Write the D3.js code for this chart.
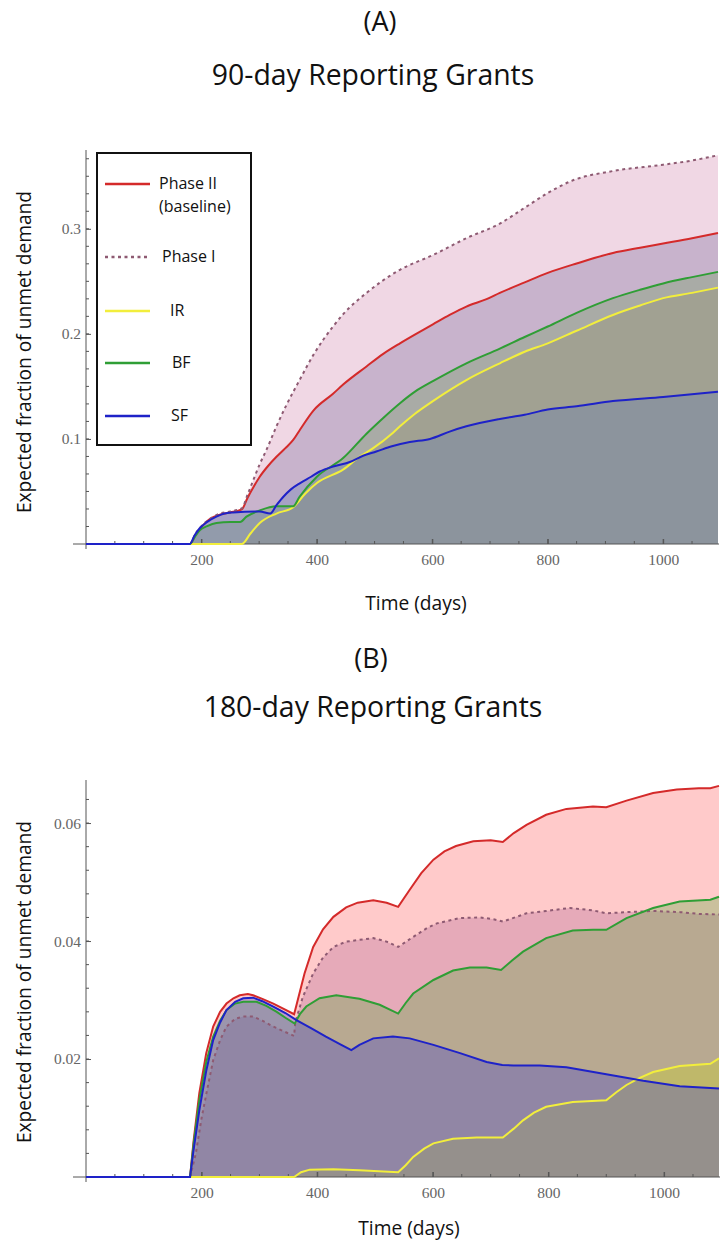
<!DOCTYPE html>
<html>
<head>
<meta charset="utf-8">
<style>
body { margin: 0; background: #fff; }
svg { display: block; }
.title { font-family: "Open Sans", Lato, sans-serif; fill: #111; }
.axlabel { font-family: "Open Sans", Lato, sans-serif; font-size: 19.2px; fill: #111; }
.tick text { font-family: "Liberation Serif", "DejaVu Serif", serif; font-size: 15.5px; fill: #666; }
.legend text { font-family: "Open Sans", Lato, sans-serif; font-size: 16px; fill: #111; }
</style>
</head>
<body>
<svg width="721" height="1241"></svg>
<script src="https://d3js.org/d3.v7.min.js"></script>
<script>

// series order (legend order, also drawing order)
var seriesNames = ["Phase II\n(baseline)", "Phase I", "IR", "BF", "SF"];

// (A) 90-day reporting grants: [day, expected fraction of unmet demand]
var a90PhaseII = [[0,0],[180,0],[190,0.009],[200,0.016],[215,0.024],[232,0.028],[250,0.030],[270,0.033],[280,0.044],[290,0.054],[301,0.064],[315,0.074],[330,0.083],[345,0.091],[359,0.099],[371,0.109],[394,0.127],[428,0.143],[446,0.152],[486,0.169],[515,0.181],[544,0.191],[572,0.200],[601,0.209],[630,0.218],[659,0.226],[694,0.233],[717,0.239],[760,0.249],[800,0.258],[850,0.267],[913,0.277],[960,0.282],[1000,0.286],[1050,0.291],[1095,0.296]];
var a90PhaseI = [[0,0],[180,0],[190,0.010],[200,0.017],[215,0.024],[232,0.029],[250,0.031],[270,0.034],[280,0.047],[290,0.061],[301,0.076],[313,0.090],[330,0.112],[347,0.132],[371,0.157],[394,0.180],[428,0.207],[446,0.219],[486,0.239],[515,0.251],[544,0.261],[601,0.275],[659,0.291],[717,0.305],[760,0.320],[800,0.334],[843,0.346],[913,0.355],[1000,0.361],[1050,0.365],[1095,0.370]];
var a90IR = [[0,0],[270,0],[285,0.010],[301,0.020],[330,0.029],[359,0.035],[380,0.048],[400,0.058],[446,0.071],[474,0.083],[497,0.091],[532,0.106],[544,0.112],[570,0.124],[601,0.136],[659,0.156],[717,0.172],[760,0.183],[800,0.191],[850,0.203],[913,0.218],[960,0.227],[1000,0.234],[1050,0.239],[1095,0.244]];
var a90BF = [[0,0],[180,0],[190,0.008],[197,0.013],[210,0.017],[226,0.020],[250,0.021],[267,0.021],[278,0.026],[301,0.032],[330,0.036],[359,0.036],[370,0.045],[400,0.064],[446,0.082],[486,0.105],[515,0.120],[544,0.134],[570,0.145],[601,0.155],[659,0.172],[717,0.186],[760,0.197],[800,0.207],[850,0.220],[913,0.234],[960,0.242],[1000,0.248],[1050,0.254],[1095,0.259]];
var a90SF = [[0,0],[180,0],[188,0.008],[197,0.015],[210,0.021],[226,0.026],[240,0.029],[255,0.030],[301,0.031],[319,0.029],[330,0.037],[342,0.045],[355,0.052],[371,0.058],[390,0.064],[405,0.069],[430,0.074],[457,0.078],[480,0.084],[503,0.088],[530,0.093],[561,0.097],[596,0.100],[630,0.107],[659,0.112],[717,0.119],[760,0.123],[800,0.128],[850,0.131],[913,0.136],[1000,0.140],[1095,0.145]];

// (B) 180-day reporting grants
var b180PhaseII = [[0,0],[180,0],[186,0.006],[196,0.0142],[208,0.021],[220,0.0255],[232,0.0280],[243,0.0294],[255,0.0303],[266,0.0308],[280,0.0310],[289,0.0308],[305,0.0302],[324,0.0294],[342,0.0285],[360,0.0276],[365,0.0295],[378,0.0345],[393,0.0390],[410,0.0420],[428,0.0441],[450,0.0457],[470,0.0465],[497,0.0469],[520,0.0465],[540,0.0458],[560,0.0487],[580,0.0515],[601,0.0538],[620,0.0552],[640,0.0561],[670,0.0569],[700,0.0571],[721,0.0568],[740,0.0583],[762,0.0597],[796,0.0614],[831,0.0624],[877,0.0628],[900,0.0627],[935,0.0638],[981,0.0651],[1022,0.0657],[1060,0.0659],[1080,0.0659],[1095,0.0663]];
var b180PhaseI = [[0,0],[180,0],[190,0.004],[200,0.010],[210,0.015],[220,0.0198],[232,0.0232],[243,0.0255],[258,0.0268],[272,0.0272],[289,0.0272],[305,0.0265],[324,0.0255],[342,0.0247],[360,0.0239],[362,0.0262],[375,0.0305],[393,0.0345],[410,0.0372],[428,0.0390],[450,0.0399],[473,0.0402],[497,0.0405],[520,0.0399],[540,0.0390],[566,0.0407],[590,0.0422],[607,0.0430],[647,0.0439],[682,0.0440],[705,0.0437],[721,0.0433],[762,0.0447],[796,0.0451],[837,0.0456],[877,0.0452],[900,0.0447],[935,0.0449],[981,0.0451],[1028,0.0449],[1060,0.0446],[1095,0.0445]];
var b180IR = [[0,0],[360,0],[372,0.0008],[387,0.00125],[428,0.0013],[473,0.00115],[540,0.0008],[553,0.0020],[566,0.0034],[585,0.0048],[601,0.0057],[635,0.0065],[676,0.0067],[721,0.0067],[740,0.0082],[756,0.0096],[775,0.0109],[796,0.0119],[842,0.0127],[900,0.0130],[918,0.0144],[935,0.0156],[958,0.0168],[981,0.0178],[1027,0.0188],[1080,0.0192],[1095,0.0201]];
var b180BF = [[0,0],[180,0],[186,0.0055],[196,0.013],[208,0.0195],[220,0.0238],[232,0.0265],[243,0.0283],[258,0.0294],[272,0.0297],[295,0.0297],[312,0.0290],[330,0.0280],[345,0.0270],[361,0.0260],[370,0.0276],[381,0.0289],[404,0.0303],[433,0.0308],[461,0.0304],[473,0.0302],[508,0.0292],[540,0.0277],[553,0.0295],[566,0.0311],[601,0.0334],[635,0.0350],[664,0.0355],[693,0.0355],[718,0.0351],[737,0.0367],[756,0.0382],[796,0.0405],[842,0.0418],[877,0.0419],[900,0.0419],[935,0.0439],[981,0.0456],[1027,0.0467],[1080,0.0470],[1095,0.0475]];
var b180SF = [[0,0],[180,0],[186,0.0045],[196,0.0113],[208,0.018],[220,0.0232],[232,0.0262],[243,0.0283],[258,0.0297],[272,0.0303],[289,0.0304],[305,0.0298],[324,0.0289],[345,0.0278],[364,0.0266],[390,0.0252],[415,0.0238],[440,0.0225],[459,0.0215],[473,0.0224],[497,0.0235],[531,0.0238],[560,0.0235],[601,0.0224],[647,0.0210],[693,0.0195],[720,0.0190],[739,0.0189],[785,0.0189],[831,0.0186],[900,0.0174],[964,0.0163],[1027,0.0154],[1095,0.0150]];

// tick values
var xTicks = [200, 400, 600, 800, 1000];
var aYTicks = [0.1, 0.2, 0.3];
var bYTicks = [0.02, 0.04, 0.06];

var lineColors = ["#d42a2a", "#8e5a72", "#f2ee3c", "#2f9e35", "#1e22c8"];

var svg = d3.select("svg");

function drawPanel(opt) {
    var x = d3.scaleLinear().domain([0, 1095]).range([86, opt.right]);
    var y = d3.scaleLinear().domain([0, opt.yMax]).range([opt.base, opt.top]);
    var g = svg.append("g");

    var area = d3.area()
        .curve(opt.curve)
        .x(function(d) { return x(d[0]); })
        .y0(y(0))
        .y1(function(d) { return y(d[1]); });
    var line = d3.line()
        .curve(opt.curve)
        .x(function(d) { return x(d[0]); })
        .y(function(d) { return y(d[1]); });

    // fills, in plotting order, each semi-transparent
    opt.series.forEach(function(s, i) {
        g.append("path")
            .attr("d", area(s))
            .attr("fill", opt.fills[i][0])
            .attr("fill-opacity", opt.fills[i][1]);
    });

    // minor ticks
    var xMinor = d3.range(50, 1095, 50);
    var yMinor = d3.range(1, Math.floor(opt.yMax / opt.yMinorStep) + 1).map(function(k) { return k * opt.yMinorStep; });
    var axes = g.append("g").attr("stroke", "#555").attr("stroke-width", 1);
    axes.append("line").attr("x1", 73).attr("x2", opt.right + 1).attr("y1", opt.base).attr("y2", opt.base);
    axes.append("line").attr("x1", 86).attr("x2", 86).attr("y1", opt.top).attr("y2", opt.base + 5);
    axes.selectAll(".xm").data(xMinor).enter().append("line")
        .attr("x1", function(d) { return x(d); }).attr("x2", function(d) { return x(d); })
        .attr("y1", opt.base).attr("y2", function(d) { return opt.base - (d % 200 === 0 ? 5 : 3); });
    axes.selectAll(".ym").data(yMinor).enter().append("line")
        .attr("y1", function(d) { return y(d); }).attr("y2", function(d) { return y(d); })
        .attr("x1", 86).attr("x2", 89);

    // labelled ticks through d3 axes
    var xAxis = d3.axisBottom(x).tickValues(xTicks).tickSize(-5).tickPadding(10).tickFormat(d3.format("d"));
    var yAxis = d3.axisLeft(y).tickValues(opt.yTicks).tickSize(-5).tickPadding(5).tickFormat(function(d) { return String(+d.toFixed(3)); });
    var xa = g.append("g").attr("class", "axis").attr("transform", "translate(0," + opt.base + ")").call(xAxis);
    var ya = g.append("g").attr("class", "axis").attr("transform", "translate(86,0)").call(yAxis);
    [xa, ya].forEach(function(a) {
        a.select(".domain").remove();
        a.selectAll(".tick line").attr("stroke", "#555");
    });

    // curves
    opt.series.forEach(function(s, i) {
        g.append("path")
            .attr("d", line(s))
            .attr("fill", "none")
            .attr("stroke", lineColors[i])
            .attr("stroke-width", 2)
            .attr("stroke-dasharray", i === 1 ? "3,3.5" : null);
    });

    // titles
    svg.append("text").attr("class", "title").attr("x", opt.labelX).attr("y", opt.labelY)
        .attr("text-anchor", "middle").style("font-size", "27px").text(opt.label);
    svg.append("text").attr("class", "title").attr("x", 373).attr("y", opt.titleY)
        .attr("text-anchor", "middle").style("font-size", "28.4px").text(opt.title);
    svg.append("text").attr("class", "axlabel").attr("x", opt.xTitleX).attr("y", opt.xTitleY)
        .attr("text-anchor", "middle").text("Time (days)");
    svg.append("text").attr("class", "axlabel")
        .attr("transform", "translate(31," + opt.yTitleY + ") rotate(-90)")
        .attr("text-anchor", "middle").text("Expected fraction of unmet demand");
    return g;
}

drawPanel({
    label: "(A)", labelX: 380, labelY: 31,
    title: "90-day Reporting Grants", titleY: 85,
    series: [a90PhaseII, a90PhaseI, a90IR, a90BF, a90SF],
    fills: [["rgb(88,108,158)", 0.3], ["rgb(180,55,120)", 0.2], ["rgb(140,110,60)", 0.2], ["rgb(100,153,78)", 0.3], ["rgb(93,120,181)", 0.3]],
    curve: d3.curveMonotoneX,
    yMax: 0.375, yTicks: aYTicks, yMinorStep: 0.1 / 6,
    base: 544, top: 150, right: 718,
    xTitleX: 416, xTitleY: 610, yTitleY: 352
});

drawPanel({
    label: "(B)", labelX: 371, labelY: 668,
    title: "180-day Reporting Grants", titleY: 717,
    series: [b180PhaseII, b180PhaseI, b180IR, b180BF, b180SF],
    fills: [["rgb(255,60,60)", 0.27], ["rgb(172,95,145)", 0.3], ["rgb(255,233,28)", 0.35], ["rgb(80,170,52)", 0.3], ["rgb(71,70,202)", 0.35]],
    curve: d3.curveLinear,
    yMax: 0.0673, yTicks: bYTicks, yMinorStep: 0.004,
    base: 1177, top: 780, right: 719,
    xTitleX: 409, xTitleY: 1235, yTitleY: 982
});

// legend of panel (A)
var legend = svg.append("g").attr("class", "legend");
legend.append("rect").attr("x", 97).attr("y", 153).attr("width", 154).attr("height", 292)
    .attr("fill", "#fff").attr("stroke", "#111").attr("stroke-width", 2);
var legendY = [184, 257, 311, 363, 416];
var legendTextX = [159, 162, 170, 172, 171];
seriesNames.forEach(function(name, i) {
    legend.append("line").attr("x1", 105).attr("x2", 150).attr("y1", legendY[i]).attr("y2", legendY[i])
        .attr("stroke", lineColors[i]).attr("stroke-width", 2.5)
        .attr("stroke-dasharray", i === 1 ? "3,3.5" : null);
    var t = legend.append("text").attr("x", legendTextX[i]).attr("y", legendY[i] + 5);
    name.split("\n").forEach(function(part, k) {
        t.append("tspan").attr("x", legendTextX[i]).attr("dy", k === 0 ? 0 : 23).text(part);
    });
});
</script>
</body>
</html>
